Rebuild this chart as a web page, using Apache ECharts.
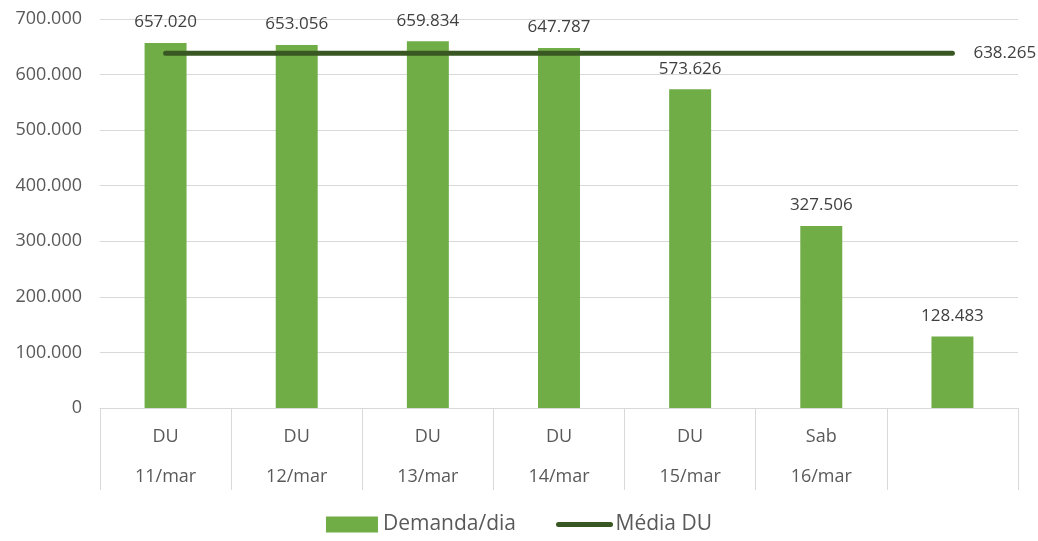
<!DOCTYPE html>
<html>
<head>
<meta charset="utf-8">
<script src="https://cdn.jsdelivr.net/npm/echarts@6/dist/echarts.min.js"></script>
<style>
html,body{margin:0;padding:0;background:#fff;}
#chart{width:1038px;height:541px;}
</style>
</head>
<body>
<div id="chart"></div>
<script>
const dayTypes = ["DU", "DU", "DU", "DU", "DU", "Sab", ""];
const dates = ["11/mar", "12/mar", "13/mar", "14/mar", "15/mar", "16/mar", ""];
const demanda = [657020, 653056, 659834, 647787, 573626, 327506, 128483];
const mediaDU = [638265, 638265, 638265, 638265, 638265, 638265, 638265];
const seriesNames = ["Demanda/dia", "Média DU"];

function fmt(v) {
  return String(v).replace(/\B(?=(\d{3})+(?!\d))/g, '.');
}

const categories = dayTypes.map((d, i) => d + "\n" + dates[i]);
const FONT = "Open Sans";
const LINE_COLOR = '#385723';

const chart = echarts.init(document.getElementById('chart'));
chart.setOption({
  animation: false,
  textStyle: { fontFamily: FONT },
  grid: { left: 100, right: 20, top: 19, bottom: 133 },
  legend: {
    bottom: 1,
    left: 'center',
    itemGap: 40,
    itemWidth: 52,
    itemHeight: 16,
    textStyle: { fontSize: 21, color: '#595959', fontFamily: FONT },
    data: [
      { name: seriesNames[0], icon: 'rect' },
      { name: seriesNames[1], itemStyle: { opacity: 0 }, lineStyle: { width: 5, cap: 'round', color: LINE_COLOR } }
    ]
  },
  xAxis: {
    type: 'category',
    data: categories,
    axisLine: { lineStyle: { color: '#d9d9d9', width: 1 } },
    axisTick: { show: true, length: 82, interval: 0, lineStyle: { color: '#d9d9d9' } },
    axisLabel: {
      interval: 0,
      fontSize: 18,
      color: '#595959',
      lineHeight: 40,
      margin: 9,
      fontFamily: FONT
    }
  },
  yAxis: {
    type: 'value',
    min: 0,
    max: 700000,
    interval: 100000,
    axisLine: { show: false },
    axisTick: { show: false },
    splitLine: { lineStyle: { color: '#d9d9d9', width: 1 } },
    axisLabel: {
      formatter: v => fmt(v),
      fontSize: 18,
      color: '#595959',
      margin: 18,
      fontFamily: FONT
    }
  },
  series: [
    {
      name: seriesNames[0],
      type: 'bar',
      data: demanda,
      barWidth: '32%',
      itemStyle: { color: '#70AD47' },
      label: {
        show: true,
        position: 'top',
        distance: 12,
        formatter: p => fmt(p.value),
        fontSize: 17,
        color: '#404040',
        fontFamily: FONT
      }
    },
    {
      name: seriesNames[1],
      type: 'line',
      data: mediaDU,
      symbol: 'none',
      z: 5,
      lineStyle: { color: LINE_COLOR, width: 5, cap: 'round' },
      itemStyle: { color: LINE_COLOR },
      endLabel: {
        show: true,
        distance: 21,
        formatter: p => fmt(p.value),
        fontSize: 17,
        color: '#404040',
        fontFamily: FONT
      }
    }
  ]
});
</script>
</body>
</html>
